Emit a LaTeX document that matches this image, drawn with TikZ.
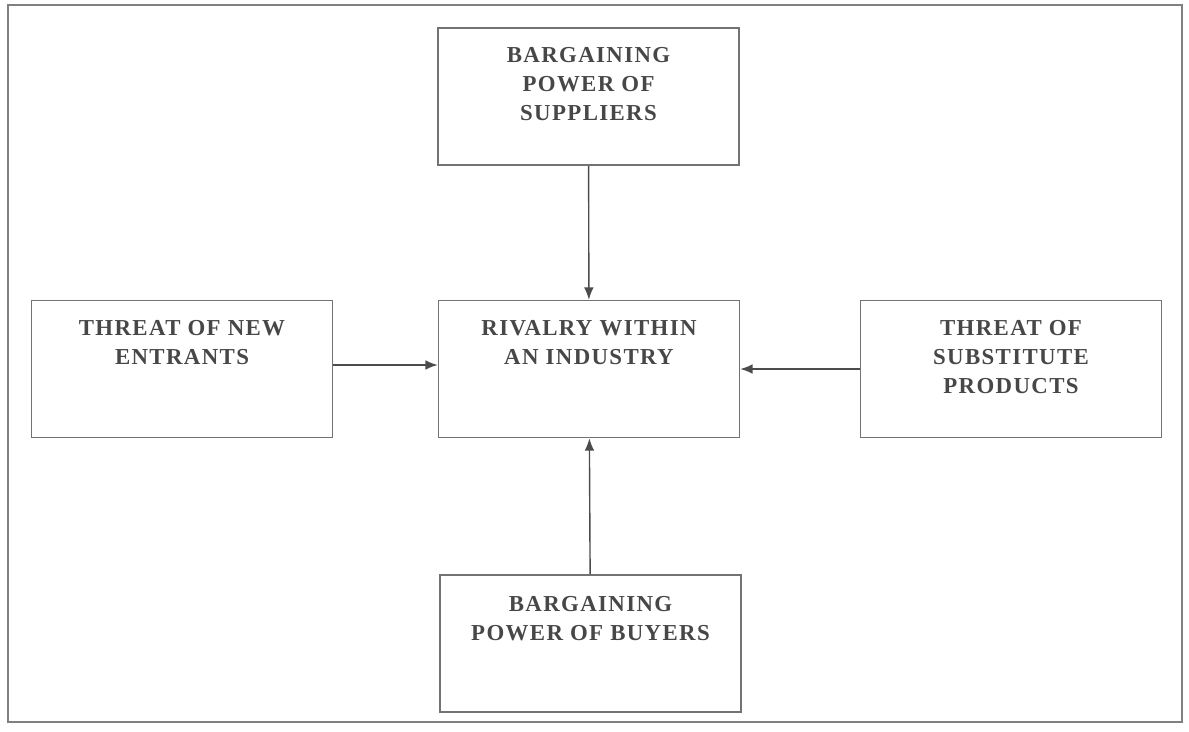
\documentclass[tikz,border=0pt]{standalone}
\usepackage{fontspec}
\setmainfont{Liberation Serif}
\usetikzlibrary{arrows.meta,positioning}

\tikzset{
  force/.style={draw=black!55, line width=0.9pt, minimum width=6.02cm, minimum height=2.74cm, inner sep=0pt},
  forcetext/.style={inner sep=0pt, align=center, text=black!72,
    font=\fontsize{13}{16.5}\selectfont\bfseries\addfontfeatures{LetterSpace=6}},
  push/.style={draw=black!70, line width=0.8pt, -{Latex[length=7pt,width=5.5pt]}}
}

\begin{document}
\begin{tikzpicture}[x=0.02cm,y=-0.02cm]

\useasboundingbox (0,0) rectangle (1189,731);
\draw[black!50, line width=1.1pt] (8,5) rectangle (1182,722);

\node[force] (sup) at (588.5,96.5) {};
\node[force] (ent) at (182,369) {};
\node[force] (riv) at (589,369) {};
\node[force] (sub) at (1011,369) {};
\node[force] (buy) at (590.5,643.5) {};

\node[forcetext, below=0.4cm of sup.north] (supT) {BARGAINING\\POWER OF\\SUPPLIERS};
\node[forcetext, below=0.4cm of ent.north] (entT) {THREAT OF NEW\\ENTRANTS};
\node[forcetext, below=0.4cm of riv.north] (rivT) {RIVALRY WITHIN\\AN INDUSTRY};
\node[forcetext, below=0.4cm of sub.north] (subT) {THREAT OF\\SUBSTITUTE\\PRODUCTS};
\node[forcetext, below=0.44cm of buy.north] (buyT) {BARGAINING\\POWER OF BUYERS};

\draw[push] (sup) -- (riv);
\draw[push] ([yshift=0.08cm]ent.east) -- ([yshift=0.08cm]riv.west);
\draw[push] (sub.west) -- (riv.east);
\draw[push] (buy) -- (riv);

\end{tikzpicture}
\end{document}
